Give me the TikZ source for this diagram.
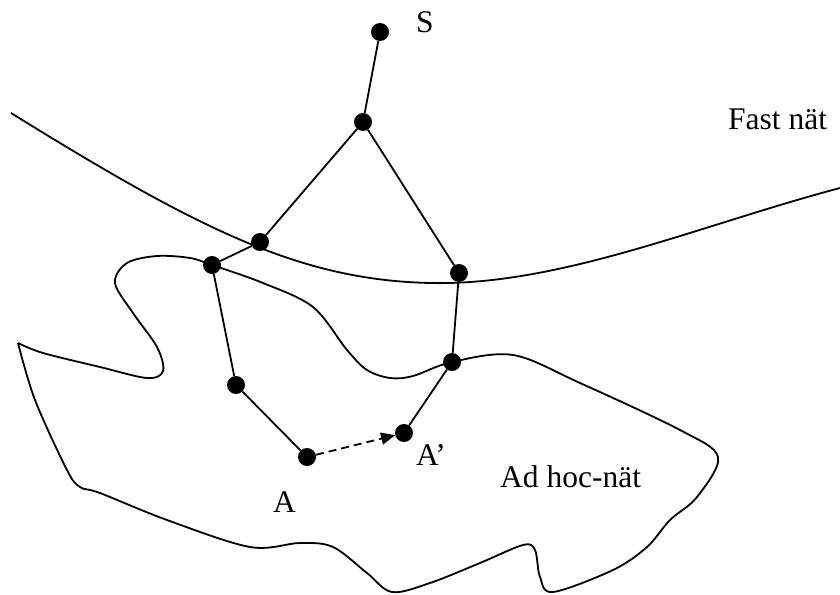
\documentclass[tikz,border=0pt]{standalone}
\usepackage{fontspec}
\setmainfont{Liberation Serif}
\usetikzlibrary{arrows.meta}
\begin{document}
\begin{tikzpicture}[x=1pt,y=-1pt,
  dot/.style={circle,fill=black,inner sep=0pt,minimum size=18pt},
  link/.style={line width=1.8pt},
  region/.style={line width=1.8pt,line join=round},
  move/.style={line width=1.8pt,dash pattern=on 8pt off 5pt,-{Triangle[length=14pt,width=12pt]}},
  lbl/.style={anchor=base west,inner sep=0pt,font=\fontsize{31.5}{37}\selectfont}]
\useasboundingbox (0,0) rectangle (840,594);

% boundary of the fixed network
\draw[region] (11,113) .. controls (200,230) and (300,280) .. (430,283)
                       .. controls (560,286) and (700,225) .. (840,188);

% boundary of the ad hoc network
\draw[region] plot[smooth,tension=0.55] coordinates {
  (18,343) (43,353) (100,367) (147,378) (163,371) (157,347) (133,313)
  (115,283) (127,263) (157,256) (190,258) (212,265) (263,283) (313,307)
  (347,350) (367,370) (390,378) (413,376) (452,362) (513,355) (580,383)
  (680,430) (718,457) (697,497) (670,520) (647,547) (613,570) (553,592)
  (540,577) (535,550) (523,545) (480,563) (430,583) (392,592) (367,573)
  (333,547) (300,543) (250,547) (167,520) (100,493) (80,487) (67,470)
  (35,400) (18,343)};

% stations
\node[dot] (s)  at (380,32)  {};
\node[dot] (n1) at (363,122) {};
\node[dot] (n2) at (260,242) {};
\node[dot] (n3) at (212,265) {};
\node[dot] (n4) at (459,273) {};
\node[dot] (n5) at (452,362) {};
\node[dot] (n6) at (236,385) {};
\node[dot] (a)  at (307,457) {};
\node[dot] (a2) at (404,433) {};

% links
\draw[link] (s) -- (n1);
\draw[link] (n1) -- (n2);
\draw[link] (n1) -- (n4);
\draw[link] (n2) -- (n3);
\draw[link] (n3) -- (n6);
\draw[link] (n6) -- (a);
\draw[link] (n4) -- (n5);
\draw[link] (n5) -- (a2);
\draw[move] (a) -- (a2);

% labels
\node[lbl] (ls)  at (416,33)  {S};
\node[lbl] (lf)  at (728,129) {Fast nät};
\node[lbl] (la2) at (416,465) {A’};
\node[lbl] (la)  at (273,512) {A};
\node[lbl] (lad) at (500,487) {Ad hoc-nät};
\end{tikzpicture}
\end{document}
